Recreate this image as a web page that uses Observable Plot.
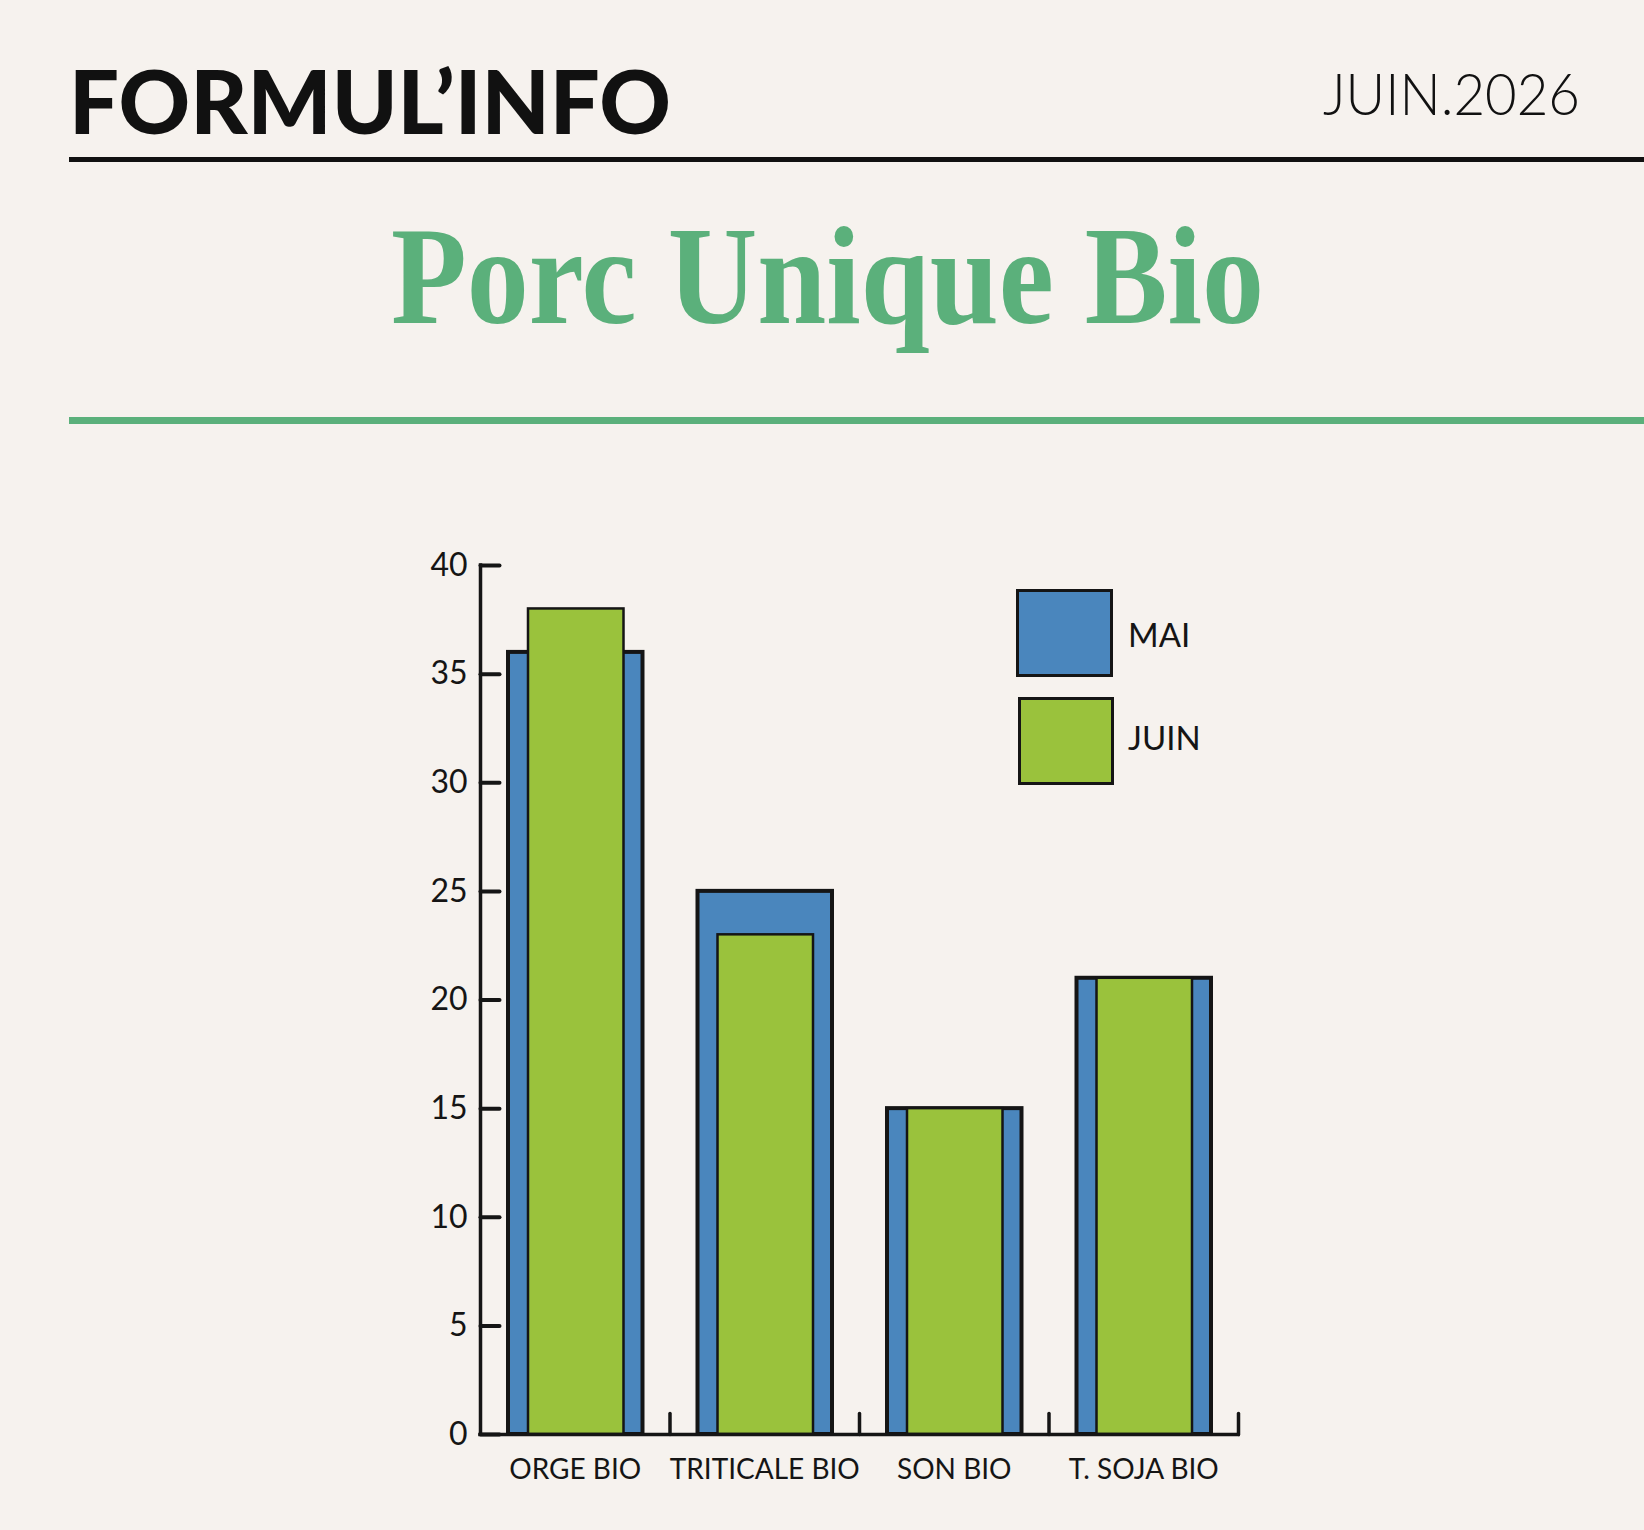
<!DOCTYPE html>
<html>
<head>
<meta charset="utf-8">
<script src="https://cdn.jsdelivr.net/npm/d3@7"></script>
<script src="https://cdn.jsdelivr.net/npm/@observablehq/plot@0.6"></script>
<style>
  html, body { margin: 0; padding: 0; background: #f6f2ee; overflow: hidden; }
  #page { position: relative; width: 1644px; height: 1530px; background: #f6f2ee; }
  #chart { position: absolute; left: 0; top: 500px; z-index: 1; }
  #deco { position: absolute; left: 0; top: 0; z-index: 2; pointer-events: none; }
</style>
</head>
<body>
<div id="page">
  <div id="chart"></div>
  <svg id="deco" width="1644" height="1530" xmlns="http://www.w3.org/2000/svg">
    <text x="69" y="134" font-family="Lato, Inter, sans-serif" font-weight="900" font-size="88" fill="#111" textLength="602" lengthAdjust="spacingAndGlyphs">FORMUL’INFO</text>
    <text x="1323" y="115" font-family="Lato, Inter, sans-serif" font-weight="300" font-size="58" fill="#111" textLength="257" lengthAdjust="spacingAndGlyphs">JUIN.2026</text>
    <rect x="69" y="157" width="1575" height="5" fill="#111"></rect>
    <text x="391" y="323" font-family="'Liberation Serif', 'DejaVu Serif', serif" font-weight="700" font-size="139" fill="#5bb07b" textLength="873" lengthAdjust="spacingAndGlyphs">Porc Unique Bio</text>
    <rect x="69" y="417" width="1575" height="7" fill="#5bb07b"></rect>
    <g id="legend"></g>
  </svg>
</div>
<script>
// ---- data ----
const categories = ["ORGE BIO", "TRITICALE BIO", "SON BIO", "T. SOJA BIO"];
const maiValues = [36, 25, 15, 21];
const juinValues = [38, 23, 15, 21];
const seriesNames = ["MAI", "JUIN"];
const yTicks = [0, 5, 10, 15, 20, 25, 30, 35, 40];

// ---- styles ----
const colorMai = "#4a86bd";
const colorJuin = "#9ac23c";
const ink = "#151515";
const font = "Lato, Inter, sans-serif";

const rows = [];
categories.forEach((c, i) => {
  rows.push({cat: c, i, series: seriesNames[0], value: maiValues[i]});
  rows.push({cat: c, i, series: seriesNames[1], value: juinValues[i]});
});
const boundaries = categories.map((c, i) => i + 1);
const lineShape = {draw(ctx, l) { ctx.moveTo(0, 0); ctx.lineTo(0, -l); }};

const chart = Plot.plot({
  width: 1644,
  height: 1000,
  marginTop: 65,
  marginBottom: 66,
  marginLeft: 480,
  marginRight: 406,
  style: {background: "transparent", fontFamily: font, color: ink},
  x: {domain: [0, categories.length], axis: null},
  y: {domain: [0, 40], axis: null},
  marks: [
    Plot.rectY(rows.filter(d => d.series === seriesNames[0]), {
      x1: "i", x2: d => d.i + 1, y: "value",
      insetLeft: 28, insetRight: 27,
      fill: colorMai, stroke: ink, strokeWidth: 4
    }),
    Plot.rectY(rows.filter(d => d.series === seriesNames[1]), {
      x1: "i", x2: d => d.i + 1, y: "value",
      insetLeft: 48, insetRight: 46,
      fill: colorJuin, stroke: ink, strokeWidth: 2.5
    }),
    Plot.ruleX([0], {y1: 0, y2: 40, stroke: ink, strokeWidth: 3.5, strokeLinecap: "square"}),
    Plot.ruleY([0], {x1: 0, x2: categories.length, stroke: ink, strokeWidth: 3.5, strokeLinecap: "square"}),
    Plot.vector(yTicks, {x: 0, y: d => d, rotate: 90, length: 19, anchor: "start", shape: lineShape, stroke: ink, strokeWidth: 4}),
    Plot.vector(boundaries, {x: d => d, y: 0, rotate: 0, length: 21, anchor: "start", shape: lineShape, stroke: ink, strokeWidth: 3.5}),
    Plot.text(yTicks, {x: 0, y: d => d, text: d => String(d), textAnchor: "end", dx: -13, fontSize: 32, fill: ink, lineAnchor: "middle", letterSpacing: 1}),
    Plot.text(categories, {x: (d, i) => i + 0.5, y: 0, text: d => d, dy: 36, fontSize: 28, fill: ink, lineAnchor: "middle"})
  ]
});
document.getElementById("chart").appendChild(chart);

// legend
const legendData = [
  {name: seriesNames[0], color: colorMai, x: 1016, y: 589, w: 97, h: 88, ty: 647},
  {name: seriesNames[1], color: colorJuin, x: 1018, y: 697, w: 96, h: 88, ty: 750}
];
const lg = d3.select("#legend");
legendData.forEach(d => {
  lg.append("rect").attr("x", d.x + 1.5).attr("y", d.y + 1.5).attr("width", d.w - 3).attr("height", d.h - 3)
    .attr("fill", d.color).attr("stroke", ink).attr("stroke-width", 3);
  lg.append("text").attr("x", 1128).attr("y", d.ty).attr("font-family", font).attr("font-size", 33)
    .attr("fill", ink).text(d.name);
});
</script>
</body>
</html>
